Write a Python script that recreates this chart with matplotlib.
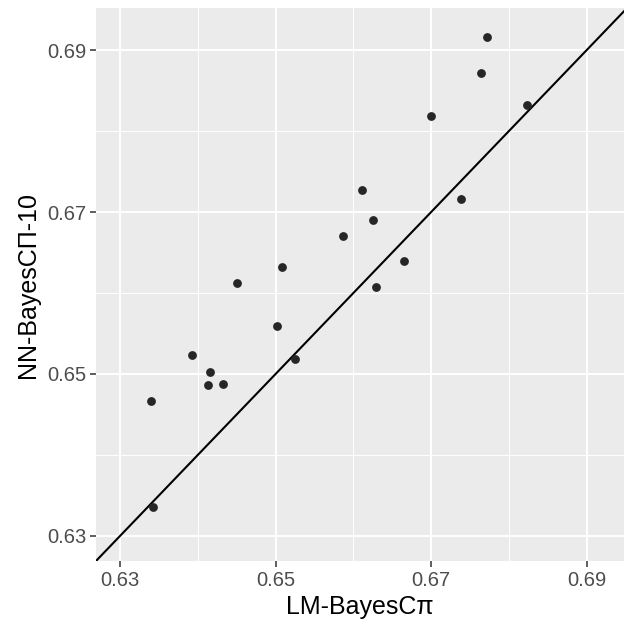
import numpy as np
import matplotlib
matplotlib.use("Agg")
import matplotlib.pyplot as plt

## data
lm = np.array([0.6772, 0.6764, 0.6823, 0.6700, 0.6611, 0.6625, 0.6587, 0.6739, 0.6665, 0.6629,
               0.6508, 0.6450, 0.6502, 0.6525, 0.6393, 0.6416, 0.6413, 0.6432, 0.6340, 0.6342])
nn = np.array([0.6916, 0.6872, 0.6832, 0.6819, 0.6727, 0.6690, 0.6671, 0.6716, 0.6640, 0.6607,
               0.6632, 0.6612, 0.6559, 0.6519, 0.6523, 0.6502, 0.6486, 0.6488, 0.6467, 0.6336])
ticks = [0.63, 0.65, 0.67, 0.69]
minor = [0.64, 0.66, 0.68]

plt.rcParams['font.family'] = ['Liberation Sans', 'DejaVu Sans']

fig = plt.figure(figsize=(6.24, 6.25), dpi=100)
ax = fig.add_axes([0.1538, 0.1024, 0.8462, 0.8848])
ax.set_facecolor("#EBEBEB")

ax.set_xlim(0.6269, 0.6948)
ax.set_ylim(0.6269, 0.6952)

# grid like ggplot
ax.set_xticks(ticks)
ax.set_yticks(ticks)
ax.set_xticks(minor, minor=True)
ax.set_yticks(minor, minor=True)
ax.grid(which="major", color="white", linewidth=1.4)
ax.grid(which="minor", color="white", linewidth=0.7)
ax.set_axisbelow(True)
for s in ax.spines.values():
    s.set_visible(False)
ax.tick_params(which="major", length=4, width=1.1, color="#333333",
               labelsize=14.5, labelcolor="#4D4D4D", pad=3)
ax.tick_params(which="minor", length=0)
ax.set_xticklabels(["0.63", "0.65", "0.67", "0.69"])
ax.set_yticklabels(["0.63", "0.65", "0.67", "0.69"])

# identity line
ax.plot([0.62, 0.70], [0.62, 0.70], color="black", linewidth=1.5, zorder=2)

ax.scatter(lm, nn, s=40, color="#262626", zorder=3, linewidths=0)

ax.set_xlabel("LM-BayesC\u03c0", fontsize=18, labelpad=4)
ax.set_ylabel("NN-BayesC\u03a0-10", fontsize=18, labelpad=5)

fig.savefig("out.png", dpi=100)
